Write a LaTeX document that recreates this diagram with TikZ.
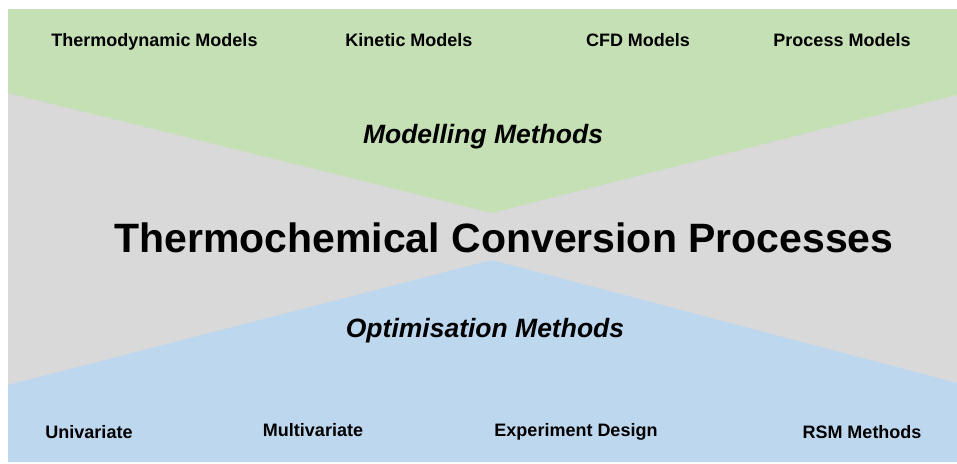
\documentclass[tikz,border=0pt]{standalone}
\usepackage{fontspec}
\setmainfont{Liberation Sans}
\definecolor{bggray}{HTML}{D9D9D9}
\definecolor{topgreen}{HTML}{C5E0B4}
\definecolor{botblue}{HTML}{BDD7EE}
\begin{document}
\begin{tikzpicture}[x=1pt,y=-1pt,
  small/.style={font=\fontsize{18}{20}\selectfont\bfseries, inner sep=0pt, anchor=base},
  mid/.style={font=\fontsize{26.5}{30}\selectfont\bfseries\itshape, inner sep=0pt, anchor=base},
  big/.style={font=\fontsize{41}{46}\selectfont\bfseries, inner sep=0pt, anchor=base}]
\useasboundingbox (0,0) rectangle (957,463);
\fill[bggray] (8,9) rectangle (957,462);
\fill[topgreen] (8,9) -- (957,9) -- (957,95) -- (492,213) -- (8,93) -- cycle;
\fill[botblue] (8,462) -- (957,462) -- (957,383) -- (492,260) -- (8,385) -- cycle;
\node[small] (thermo) at (154.5,46.5) {Thermodynamic Models};
\node[small] (kinetic) at (409,46.5) {Kinetic Models};
\node[small] (cfd) at (638,46.5) {CFD Models};
\node[small] (process) at (842,46.5) {Process Models};
\node[mid] (modelling) at (483,143) {Modelling Methods};
\node[big] (tcp) at (504,252.5) {Thermochemical Conversion Processes};
\node[mid] (optim) at (485,337) {Optimisation Methods};
\node[small] (uni) at (89,438) {Univariate};
\node[small] (multi) at (313,436.5) {Multivariate};
\node[small] (exp) at (576,436.5) {Experiment Design};
\node[small] (rsm) at (862,438) {RSM Methods};
\end{tikzpicture}
\end{document}
